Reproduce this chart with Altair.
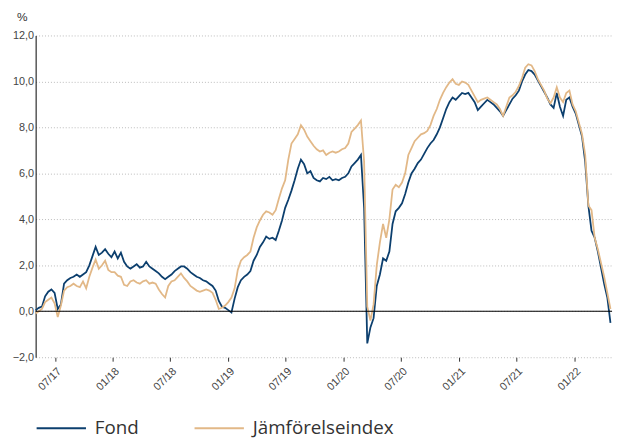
import altair as alt
import pandas as pd

# one observation every 10 days, starting 2017-05-01
dates = pd.date_range("2017-05-01", periods=183, freq="10D")

fond = [
    0.05, 0.15, 0.2, 0.65, 0.85, 0.95, 0.8, 0.1, 0.3, 1.2,
    1.35, 1.45, 1.5, 1.6, 1.5, 1.6, 1.7, 2.0, 2.4, 2.8,
    2.45, 2.55, 2.7, 2.5, 2.35, 2.6, 2.3, 2.55, 2.15, 1.95,
    1.85, 1.95, 2.05, 1.9, 1.95, 2.15, 1.95, 1.85, 1.75, 1.65,
    1.5, 1.4, 1.5, 1.6, 1.75, 1.85, 1.95, 1.95, 1.85, 1.7,
    1.6, 1.5, 1.45, 1.35, 1.3, 1.2, 1.1, 0.9, 0.45, 0.2,
    0.15, 0.05, -0.05, 0.55, 1.05, 1.35, 1.5, 1.6, 1.75, 2.2,
    2.45, 2.8, 3.0, 3.25, 3.15, 3.2, 3.1, 3.5, 3.95, 4.5,
    4.85, 5.25, 5.7, 6.2, 6.6, 6.4, 6.0, 6.1, 5.8, 5.7,
    5.65, 5.8, 5.75, 5.85, 5.7, 5.75, 5.7, 5.8, 5.85, 6.0,
    6.3, 6.45, 6.6, 6.8, 4.5, -1.4, -0.7, -0.3, 1.1, 1.6,
    2.3, 2.2, 2.6, 3.8, 4.35, 4.5, 4.7, 5.1, 5.6, 6.0,
    6.2, 6.45, 6.6, 6.85, 7.1, 7.3, 7.45, 7.7, 8.0, 8.4,
    8.8, 9.1, 9.3, 9.2, 9.35, 9.5, 9.45, 9.5, 9.3, 9.1,
    8.75, 8.9, 9.05, 9.2, 9.1, 9.0, 8.85, 8.7, 8.5, 8.75,
    9.0, 9.25, 9.4, 9.6, 10.0, 10.3, 10.5, 10.45, 10.3, 10.05,
    9.8, 9.55, 9.3, 9.0, 8.85, 9.5, 8.9, 8.5, 9.2, 9.3,
    8.9, 8.6, 8.1, 7.6, 6.5, 4.6, 3.5, 3.2, 2.6, 1.9,
    1.2, 0.6, -0.5,
]

jamforelse = [
    -0.1, 0.0, 0.1, 0.4, 0.5, 0.6, 0.35, -0.25, 0.25, 0.9,
    1.05, 1.1, 1.2, 1.1, 1.05, 1.3, 1.0, 1.5, 1.9, 2.25,
    1.85, 2.0, 2.2, 1.8, 1.7, 1.7, 1.55, 1.5, 1.15, 1.1,
    1.3, 1.35, 1.25, 1.2, 1.3, 1.35, 1.2, 1.25, 1.2, 0.95,
    0.75, 0.6, 1.1, 1.3, 1.35, 1.5, 1.65, 1.45, 1.3, 1.1,
    1.0, 0.9, 0.85, 0.9, 0.95, 0.9, 0.8, 0.5, 0.1, 0.15,
    0.25, 0.4, 0.6, 1.0, 1.8, 2.2, 2.35, 2.45, 2.6, 3.2,
    3.65, 3.95, 4.2, 4.35, 4.3, 4.2, 4.4, 4.9, 5.35, 5.7,
    6.6, 7.3, 7.5, 7.7, 8.1, 7.9, 7.6, 7.4, 7.2, 7.05,
    6.95, 7.0, 6.8, 6.9, 6.95, 6.9, 6.95, 7.05, 7.1, 7.3,
    7.8, 7.95, 8.1, 8.3, 6.5, 0.2, -0.4, 0.3, 2.0, 3.0,
    3.8, 3.2, 4.0, 5.3, 5.5, 5.4, 5.6, 6.0, 6.8, 7.1,
    7.4, 7.55, 7.7, 7.75, 7.85, 8.1, 8.5, 8.8, 9.2, 9.5,
    9.75, 9.95, 10.1, 9.9, 9.85, 10.0, 9.95, 9.85, 9.6, 9.35,
    9.1, 9.2, 9.25, 9.3, 9.2, 9.1, 9.0, 8.8, 8.5, 8.9,
    9.3, 9.4, 9.55, 9.8, 10.15, 10.6, 10.75, 10.7, 10.45, 10.1,
    9.85, 9.6, 9.25, 9.05, 9.3, 9.75, 9.3, 9.1, 9.5, 9.6,
    9.0, 8.7, 8.2, 7.7, 6.8, 4.6, 4.4, 3.2, 2.7, 2.1,
    1.5, 0.8, 0.1,
]

series_names = ["Fond", "Jämförelseindex"]
series_colors = ["#0c3f6e", "#e2b887"]

y_ticks = [-2, 0, 2, 4, 6, 8, 10, 12]
x_tick_dates = [
    (2017, 7), (2018, 1), (2018, 7), (2019, 1), (2019, 7),
    (2020, 1), (2020, 7), (2021, 1), (2021, 7), (2022, 1),
]

df = pd.DataFrame({
    "date": list(dates) * 2,
    "value": fond + jamforelse,
    "series": [series_names[0]] * len(fond) + [series_names[1]] * len(jamforelse),
})

x_enc = alt.X(
    "date:T",
    scale=alt.Scale(domain=[alt.DateTime(year=2017, month=5, date=1),
                            alt.DateTime(year=2022, month=4, date=30)]),
    axis=alt.Axis(
        values=[alt.DateTime(year=y, month=m, date=1) for y, m in x_tick_dates],
        format="%m/%y", labelAngle=-45, domain=False, grid=False,
        ticks=True, tickSize=4, tickColor="#333", labelFontSize=11,
        labelColor="#444", labelPadding=4, labelFont="Liberation Sans",
        title=None,
    ),
)

y_enc = alt.Y(
    "value:Q",
    scale=alt.Scale(domain=[-2, 12], nice=False, zero=False),
    axis=alt.Axis(
        values=y_ticks,
        labelExpr="replace(format(datum.value, '.1f'), '.', ',')",
        grid=True, gridDash=[1, 2], gridColor="#bbbbbb", gridWidth=1,
        domain=True, domainColor="black", domainWidth=1,
        ticks=False, labelPadding=2, labelFontSize=11, labelColor="#444",
        labelFont="Liberation Sans",
        title="%", titleAngle=0, titleX=-14, titleY=-12, titleAlign="center",
        titleFontWeight="normal", titleFontSize=12, titleColor="#333",
        titleFont="Liberation Sans",
    ),
)

color_enc = alt.Color(
    "series:N",
    scale=alt.Scale(domain=series_names, range=series_colors),
    legend=alt.Legend(
        orient="none", legendX=0, legendY=372, direction="horizontal",
        title=None, symbolType="stroke", symbolSize=2500, symbolStrokeWidth=2,
        labelFontSize=19, labelFont="Open Sans", labelColor="#333",
        labelOffset=8, columnPadding=52,
    ),
)

base = alt.Chart(df).mark_line(strokeWidth=1.8).encode(x=x_enc, y=y_enc, color=color_enc)

fond_line = base.transform_filter(alt.datum.series == series_names[0])
index_line = base.transform_filter(alt.datum.series == series_names[1])

zero_rule = alt.Chart(pd.DataFrame({"y": [0]})).mark_rule(color="black", strokeWidth=1.2).encode(
    y=alt.Y("y:Q")
)

chart = alt.layer(fond_line, index_line, zero_rule).properties(
    width=584, height=326,
    autosize="none",
    padding={"left": 28, "top": 25, "right": 4, "bottom": 80},
).configure_view(stroke=None)

chart.save("out.html", embed_options={"renderer": "svg", "actions": False})
